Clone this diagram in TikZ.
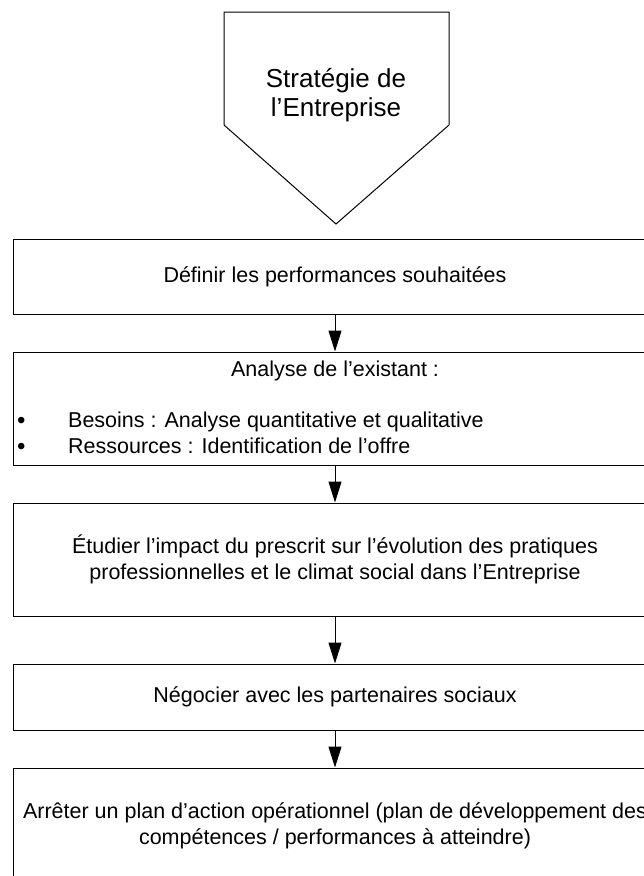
\documentclass[tikz,border=0pt]{standalone}
\usepackage{fontspec}
\setmainfont{Liberation Sans}
\usetikzlibrary{arrows.meta}
\begin{document}
\begin{tikzpicture}[x=1pt,y=-1pt,
  every node/.style={font=\fontsize{21.5}{26}\selectfont},
  stepbox/.style={draw=black, line width=1pt, minimum width=644pt, inner sep=0pt, align=center, anchor=center},
  flow/.style={draw=black, line width=1pt, -{Triangle[length=21pt,width=13pt]}},
  txt/.style={inner sep=0pt, anchor=base west}]
\useasboundingbox (0,0) rectangle (644,876);
\clip (0,0) rectangle (644,876);
% pentagon
\draw[line width=1pt] (224,12) -- (449,12) -- (449,125) -- (336,224) -- (224,125) -- cycle;
\node[align=center, inner sep=0pt, font=\fontsize{26}{29}\selectfont] (strat) at (336,95.5) {Stratégie de\\l’Entreprise};
% boxes
\node[stepbox, minimum height=75pt] (b1) at (335,276.5) {Définir les performances souhaitées};
\node[stepbox, minimum height=113pt] (b2) at (335,408.5) {};
\node[inner sep=0pt] (b2t) at (335,371) {Analyse de l’existant :};
\node[txt] (i1) at (68,427) {Besoins : Analyse quantitative et qualitative};
\node[txt] (i2) at (68,453) {Ressources : Identification de l’offre};
\node[txt, font=\fontsize{24}{26}\selectfont] (d1) at (17,428) {•};
\node[txt, font=\fontsize{24}{26}\selectfont] (d2) at (17,454) {•};
\node[stepbox, minimum height=113pt] (b3) at (335,559.5) {Étudier l’impact du prescrit sur l’évolution des pratiques\\professionnelles et le climat social dans l’Entreprise};
\node[stepbox, minimum height=66pt] (b4) at (335,697) {Négocier avec les partenaires sociaux};
\node[stepbox, minimum height=116pt] (b5) at (335,826) {Arrêter un plan d’action opérationnel (plan de développement des\\compétences / performances à atteindre)};
% arrows
\draw[flow] (b1.south) -- (b2.north);
\draw[flow] (b2.south) -- (b3.north);
\draw[flow] (b3.south) -- (b4.north);
\draw[flow] (b4.south) -- (b5.north);
\end{tikzpicture}
\end{document}
